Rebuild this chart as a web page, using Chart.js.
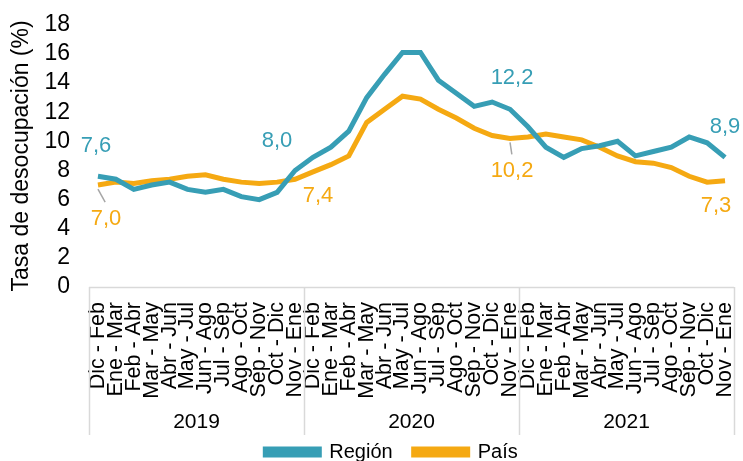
<!DOCTYPE html>
<html>
<head>
<meta charset="utf-8">
<style>
  html, body { margin: 0; padding: 0; background: #fff; }
  #wrap { width: 743px; height: 461px; }
</style>
</head>
<body>
<div id="wrap"><canvas id="myChart" width="743" height="461"></canvas></div>

<script src="https://cdn.jsdelivr.net/npm/chart.js"></script>
<script>
// periodos moviles por año
var periodos = ['Dic - Feb', 'Ene - Mar', 'Feb - Abr', 'Mar - May', 'Abr - Jun', 'May - Jul',
                'Jun - Ago', 'Jul - Sep', 'Ago - Oct', 'Sep - Nov', 'Oct - Dic', 'Nov - Ene'];
var anios = ['2019', '2020', '2021'];
var categorias = [].concat(periodos, periodos, periodos);

var region = [7.6, 7.4, 6.7, 7.0, 7.2, 6.7, 6.5, 6.7, 6.2, 6.0, 6.5, 8.0,
              8.9, 9.6, 10.7, 13.0, 14.6, 16.1, 16.1, 14.2, 13.3, 12.4, 12.7, 12.2,
              11.0, 9.6, 8.9, 9.5, 9.7, 10.0, 9.0, 9.3, 9.6, 10.3, 9.9, 8.9];
var pais = [7.0, 7.2, 7.1, 7.3, 7.4, 7.6, 7.7, 7.4, 7.2, 7.1, 7.2, 7.4,
            7.9, 8.4, 9.0, 11.3, 12.2, 13.1, 12.9, 12.2, 11.6, 10.9, 10.4, 10.2,
            10.3, 10.5, 10.3, 10.1, 9.6, 9.0, 8.6, 8.5, 8.2, 7.6, 7.2, 7.3];

var colRegion = '#379EB5';
var colPais = '#F5A912';
var fuente = "'Liberation Sans', Arial, sans-serif";

// etiquetas de datos: [dataset, indice, dx, dy, linea guia]
var etiquetas = [
    [0, 0, -2, -30, false],
    [1, 0, 8, 34, true],
    [0, 11, -18, -30, false],
    [1, 11, 23, 17, false],
    [0, 23, 2, -31, false],
    [1, 23, 2, 33, true],
    [0, 35, 0, -30, false],
    [1, 35, -9, 25, false]
];

// Plugin para lineas de agrupacion por año y etiquetas de datos
var grupoAnios = {
    id: 'grupoAnios',
    afterLayout: function(chart) {
        var lg = chart.legend;
        lg.left += 49;
        lg.top -= 14;
        lg.height += 14;
    },
    afterDraw: function(chart) {
        var ctx = chart.ctx;
        var area = chart.chartArea;
        var paso = (area.right - area.left) / categorias.length;
        var bottom = area.bottom + 148;
        ctx.save();
        ctx.strokeStyle = '#D9D9D9';
        ctx.lineWidth = 1.5;
        ctx.beginPath();
        ctx.moveTo(area.left, area.bottom + 0.5);
        ctx.lineTo(area.right, area.bottom + 0.5);
        for (var k = 0; k <= anios.length; k++) {
            var xx = Math.round(area.left + k * 12 * paso) + 0.5;
            ctx.moveTo(xx, area.bottom);
            ctx.lineTo(xx, bottom);
        }
        ctx.stroke();
        ctx.fillStyle = '#000';
        ctx.font = '21px ' + fuente;
        ctx.textAlign = 'center';
        ctx.textBaseline = 'middle';
        anios.forEach(function(a, k) {
            ctx.fillText(a, area.left + (k * 12 + 6) * paso, area.bottom + 135);
        });
        ctx.restore();
    },
    afterDatasetsDraw: function(chart) {
        var ctx = chart.ctx;
        ctx.save();
        ctx.font = '22px ' + fuente;
        ctx.textAlign = 'center';
        ctx.textBaseline = 'middle';
        etiquetas.forEach(function(e) {
            var ds = chart.data.datasets[e[0]];
            var pt = chart.getDatasetMeta(e[0]).data[e[1]];
            var val = ds.data[e[1]];
            if (e[4]) {
                ctx.strokeStyle = '#A6A6A6';
                ctx.lineWidth = 1.5;
                ctx.beginPath();
                ctx.moveTo(pt.x, pt.y + 4);
                ctx.lineTo(pt.x + e[2] * 0.9, pt.y + e[3] - 17);
                ctx.stroke();
            }
            ctx.fillStyle = ds.borderColor;
            ctx.fillText(val.toFixed(1).replace('.', ','), pt.x + e[2], pt.y + e[3]);
        });
        ctx.restore();
    }
};

var ctx = document.getElementById('myChart').getContext('2d');
var chart = new Chart(ctx, {
    type: 'line',
    data: {
        labels: categorias,
        datasets: [{
            label: 'Región',
            data: region,
            borderColor: colRegion,
            backgroundColor: colRegion,
            borderWidth: 5,
            pointRadius: 0,
            tension: 0,
            fill: false
        }, {
            label: 'País',
            data: pais,
            borderColor: colPais,
            backgroundColor: colPais,
            borderWidth: 5,
            pointRadius: 0,
            tension: 0,
            fill: false
        }]
    },
    options: {
        responsive: false,
        animation: false,
        layout: { padding: { top: 7, right: 9, left: 0, bottom: 0 } },
        scales: {
            x: {
                offset: true,
                grid: { display: false },
                border: { display: false },
                ticks: {
                    autoSkip: false,
                    minRotation: 90,
                    maxRotation: 90,
                    padding: 7,
                    color: '#000',
                    font: { family: fuente, size: 21.5 }
                },
                afterFit: function(s) {
                    s.height = 148;
                    s.paddingLeft = 0;
                    s.paddingRight = 0;
                }
            },
            y: {
                min: 0,
                max: 18,
                grid: { display: false },
                border: { display: false },
                ticks: {
                    stepSize: 2,
                    autoSkip: false,
                    padding: 11,
                    color: '#000',
                    font: { family: fuente, size: 23 }
                },
                title: {
                    display: true,
                    text: 'Tasa de desocupación (%)',
                    color: '#000',
                    padding: { top: 8, bottom: 0 },
                    font: { family: fuente, size: 23 }
                },
                afterFit: function(s) { s.width = 89; }
            }
        },
        plugins: {
            legend: {
                position: 'bottom',
                maxHeight: 26,
                labels: {
                    boxWidth: 54,
                    boxHeight: 6,
                    padding: 21,
                    color: '#000',
                    font: { family: fuente, size: 20 }
                }
            },
            tooltip: { enabled: false }
        }
    },
    plugins: [grupoAnios]
});
</script>
</body>
</html>
